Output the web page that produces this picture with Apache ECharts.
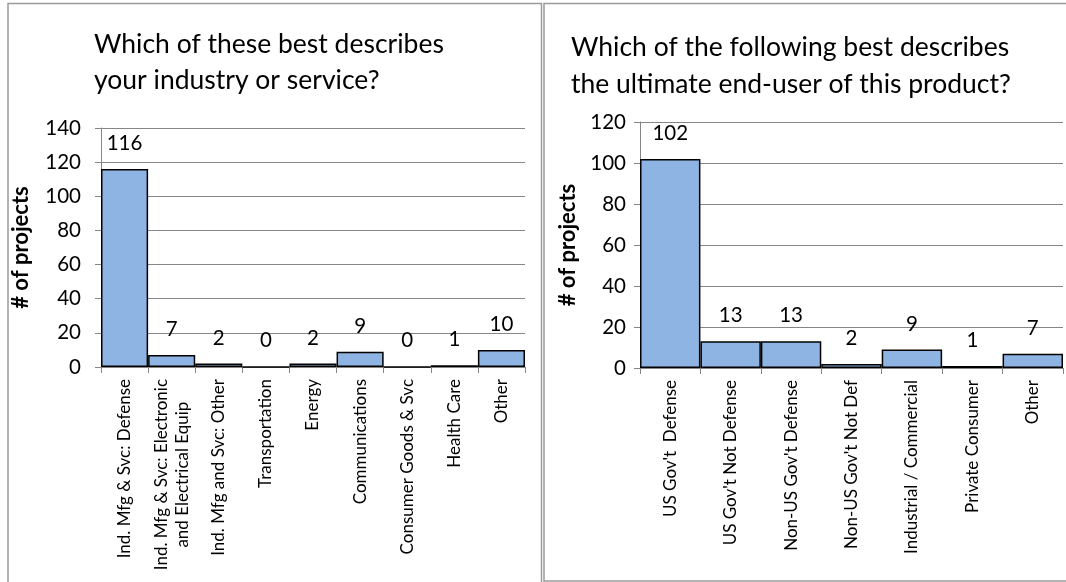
<!DOCTYPE html>
<html>
<head>
<meta charset="utf-8">
<script src="https://cdn.jsdelivr.net/npm/echarts@6/dist/echarts.min.js"></script>
<style>
html,body{margin:0;padding:0;background:#fff;}
#main{width:1066px;height:582px;}
</style>
</head>
<body>
<div id="main"></div>
<script>
var title1 = 'Which of these best describes\nyour industry or service?';
var title2 = 'Which of the following best describes\nthe ultimate end-user of this product?';
var yName = '# of projects';

var cats1 = ['Ind. Mfg & Svc: Defense', 'Ind. Mfg & Svc: Electronic\nand Electrical Equip', 'Ind. Mfg and Svc: Other', 'Transportation', 'Energy', 'Communications', 'Consumer Goods & Svc', 'Health Care', 'Other'];
var vals1 = [116, 7, 2, 0, 2, 9, 0, 1, 10];

var cats2 = ["US Gov't  Defense", "US Gov't Not Defense", "Non-US Gov't Defense", "Non-US Gov't Not Def", 'Industrial / Commercial', 'Private Consumer', 'Other'];
var vals2 = [102, 13, 13, 2, 9, 1, 7];

var yMax1 = 140, yMax2 = 120, yStep = 20;

var FONT = 'Lato, "Open Sans", sans-serif';
var GRAY = '#868686';
var BAR = '#8EB4E3';

function catLabel(v) {
  return v.split('\n').map(function (s) { return '{c|' + s + '}'; }).join('\n');
}

function xAxisCfg(idx, cats) {
  return {
    type: 'category', gridIndex: idx, data: cats,
    axisLine: { show: true, lineStyle: { color: GRAY, width: 1 } },
    axisTick: { show: true, length: 6, alignWithLabel: false, lineStyle: { color: GRAY } },
    axisLabel: {
      rotate: 90, margin: 12, interval: 0,
      formatter: catLabel,
      rich: { c: { align: 'center', fontSize: 17, fontFamily: FONT, color: '#000', lineHeight: 21 } }
    },
    splitLine: { show: false }
  };
}

function yAxisCfg(idx, max, margin, gap) {
  return {
    type: 'value', gridIndex: idx, min: 0, max: max, interval: yStep,
    name: yName, nameLocation: 'middle', nameRotate: 90, nameGap: gap,
    nameTextStyle: { fontFamily: FONT, fontWeight: 'bold', fontSize: 22, color: '#000' },
    axisLine: { show: true, lineStyle: { color: GRAY, width: 1 } },
    axisTick: { show: true, length: 6, lineStyle: { color: GRAY } },
    axisLabel: { margin: margin, fontFamily: FONT, fontSize: 20.5, color: '#000' },
    splitLine: { show: true, lineStyle: { color: GRAY, width: 1 } }
  };
}

function barSeries(idx, vals) {
  return {
    type: 'bar', xAxisIndex: idx, yAxisIndex: idx, data: vals,
    barCategoryGap: '0%',
    itemStyle: { color: BAR, borderColor: '#000', borderWidth: 1.5 },
    label: { show: true, position: 'top', distance: 15, fontFamily: FONT, fontSize: 20.5, color: '#000' },
    silent: true
  };
}

var chart = echarts.init(document.getElementById('main'), null, { renderer: 'canvas' });
chart.setOption({
  animation: false,
  backgroundColor: '#fff',
  title: [
    { text: title1, left: 94, top: 26, padding: 0, textStyle: { fontFamily: FONT, fontWeight: 'normal', fontSize: 26.5, color: '#000', lineHeight: 36 } },
    { text: title2, left: 571, top: 29, padding: 0, textStyle: { fontFamily: FONT, fontWeight: 'normal', fontSize: 26.5, color: '#000', lineHeight: 37 } }
  ],
  graphic: [
    { type: 'rect', shape: { x: 8, y: 3.5, width: 533.5, height: 620 }, style: { fill: 'none', stroke: '#9a9a9a', lineWidth: 1.5 }, silent: true, z: 100 },
    { type: 'rect', shape: { x: 544, y: 3.5, width: 620, height: 577.5 }, style: { fill: 'none', stroke: '#9a9a9a', lineWidth: 1.5 }, silent: true, z: 100 }
  ],
  grid: [
    { left: 101, top: 128, width: 424, height: 239, containLabel: false },
    { left: 640, top: 122, width: 423, height: 246, containLabel: false }
  ],
  xAxis: [xAxisCfg(0, cats1), xAxisCfg(1, cats2)],
  yAxis: [yAxisCfg(0, yMax1, 20, 69), yAxisCfg(1, yMax2, 14, 61)],
  series: [barSeries(0, vals1), barSeries(1, vals2)]
});
</script>
</body>
</html>
